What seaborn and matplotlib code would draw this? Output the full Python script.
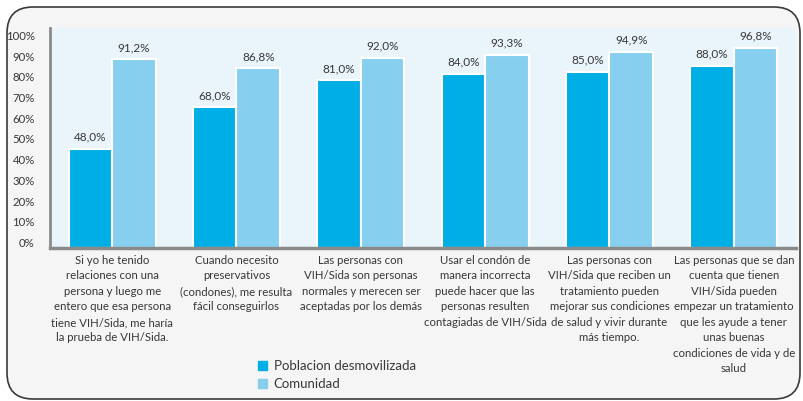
import matplotlib
matplotlib.use("Agg")
import matplotlib.pyplot as plt
import matplotlib.patches as mpatches
import matplotlib.transforms as mtransforms
import numpy as np
import pandas as pd
import seaborn as sns

categories = [
    "Si yo he tenido\nrelaciones con una\npersona y luego me\nentero que esa persona\ntiene VIH/Sida, me haría\nla prueba de VIH/Sida.",
    "Cuando necesito\npreservativos\n(condones), me resulta\nfácil conseguirlos",
    "Las personas con\nVIH/Sida son personas\nnormales y merecen ser\naceptadas por los demás",
    "Usar el condón de\nmanera incorrecta\npuede hacer que las\npersonas resulten\ncontagiadas de VIH/Sida",
    "Las personas con\nVIH/Sida que reciben un\ntratamiento pueden\nmejorar sus condiciones\nde salud y vivir durante\nmás tiempo.",
    "Las personas que se dan\ncuenta que tienen\nVIH/Sida pueden\nempezar un tratamiento\nque les ayude a tener\nunas buenas\ncondiciones de vida y de\nsalud",
]
series_names = ["Poblacion desmovilizada", "Comunidad"]
poblacion = [48.0, 68.0, 81.0, 84.0, 85.0, 88.0]
comunidad = [91.2, 86.8, 92.0, 93.3, 94.9, 96.8]
y_ticks = [0, 10, 20, 30, 40, 50, 60, 70, 80, 90, 100]

colors = ["#00aee6", "#87cfef"]

df = pd.DataFrame({
    "categoria": categories * 2,
    "serie": [series_names[0]] * len(categories) + [series_names[1]] * len(categories),
    "valor": poblacion + comunidad,
})

sns.set_style("white")
plt.rcParams["font.family"] = ["Lato", "DejaVu Sans"]
text_color = "#383838"

W, H = 804, 401
fig = plt.figure(figsize=(W / 100, H / 100), dpi=100)
fig.patch.set_facecolor("white")

# Rounded panel behind the chart
panel = mpatches.FancyBboxPatch(
    (7, 2), 793, 392,
    boxstyle="round,pad=0,rounding_size=26",
    transform=mtransforms.IdentityTransform(),
    facecolor="#f5f5f5", edgecolor="#3a3a3a", linewidth=1.2, zorder=-1,
)
fig.add_artist(panel)

left, right, top, bottom = 50, 796, 28, 248
ax = fig.add_axes([left / W, 1 - bottom / H, (right - left) / W, (bottom - top) / H])
ax.set_facecolor("#eaf4fb")

sns.barplot(
    data=df, x="categoria", y="valor", hue="serie",
    palette=colors, saturation=1, width=0.7,
    edgecolor="white", linewidth=1.5, ax=ax, legend=False,
)

for container in ax.containers:
    labels = [f"{b.get_height():.1f}%".replace(".", ",") for b in container]
    ax.bar_label(container, labels=labels, padding=4.5, fontsize=8.5, color=text_color)

ax.set_ylim(0, 106.3)
ax.set_xlim(-0.5, len(categories) - 0.5)
ax.set_yticks(y_ticks)
ax.set_yticklabels([f"{t}%" for t in y_ticks], fontsize=8.2, color=text_color)
ax.tick_params(axis="both", length=0)
ax.tick_params(axis="y", pad=11)
ax.tick_params(axis="x", pad=5)
offset = mtransforms.ScaledTranslation(0, 4 / 72, fig.dpi_scale_trans)
for lbl in ax.get_yticklabels():
    lbl.set_transform(lbl.get_transform() + offset)
ax.set_xticks(range(len(categories)))
ax.set_xticklabels(categories, fontsize=8.2, color=text_color, linespacing=1.5, va="top")
ax.set_xlabel("")
ax.set_ylabel("")

for side in ["top", "right"]:
    ax.spines[side].set_visible(False)
ax.spines["left"].set_color("#8a8a8a")
ax.spines["left"].set_linewidth(2)
ax.spines["bottom"].set_color("#8a8a8a")
ax.spines["bottom"].set_linewidth(2.5)

handles = [mpatches.Patch(color=c) for c in colors]
fig.legend(
    handles, series_names, loc="upper left",
    bbox_to_anchor=(246 / W, 1 - 348 / H), frameon=False,
    fontsize=9.5, handlelength=0.7, handleheight=0.7, handletextpad=0.5,
    labelspacing=0.45, labelcolor=text_color,
)

fig.savefig("out.png", dpi=100)
